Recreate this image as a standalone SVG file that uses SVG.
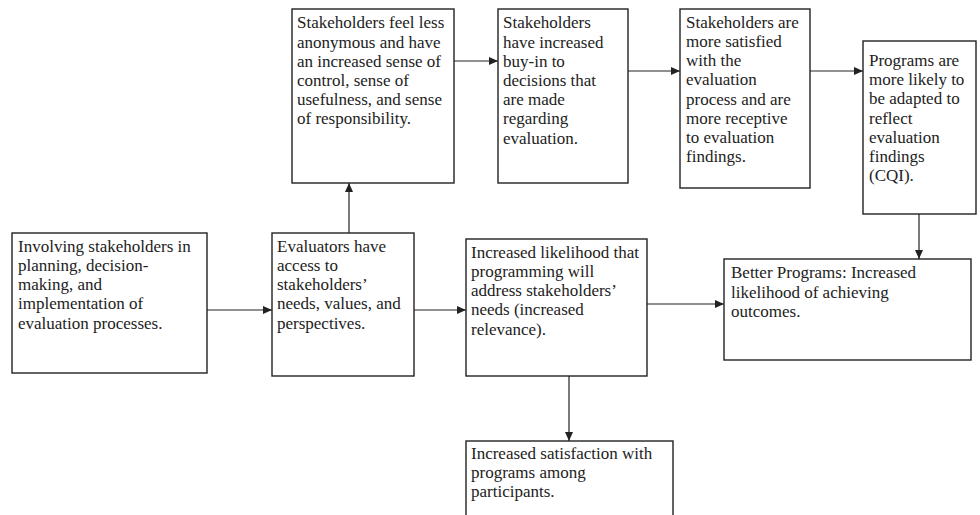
<svg xmlns="http://www.w3.org/2000/svg" width="980" height="515" viewBox="0 0 980 515">
<style>
.box{fill:#fff;stroke:#222;stroke-width:1.4}
.t{font-family:"Liberation Serif","Times New Roman",serif;font-size:17px;fill:#222}
.c{stroke:#222;stroke-width:1.2;fill:none;marker-end:url(#ah)}
</style>
<defs>
<marker id="ah" markerUnits="userSpaceOnUse" markerWidth="10" markerHeight="8" refX="9" refY="4" orient="auto">
<path d="M0,0 L9,4 L0,8 Z" fill="#222"/>
</marker>
</defs>
<rect width="980" height="515" fill="#fff"/>
<g id="connectors">
<line class="c" x1="207" y1="310" x2="272" y2="310"/>
<line class="c" x1="414" y1="310" x2="466" y2="310"/>
<line class="c" x1="647" y1="304" x2="724" y2="304"/>
<line class="c" x1="349" y1="233" x2="349" y2="183"/>
<line class="c" x1="454" y1="61" x2="498" y2="61"/>
<line class="c" x1="628" y1="71" x2="680" y2="71"/>
<line class="c" x1="810" y1="71" x2="863" y2="71"/>
<line class="c" x1="919" y1="214" x2="919" y2="259"/>
<line class="c" x1="569" y1="376" x2="569" y2="441"/>
</g>
<g id="n1">
<rect class="box" x="12" y="233" width="195" height="140"/>
<text class="t" x="18" y="251.7"><tspan x="18">Involving stakeholders in</tspan><tspan x="18" dy="19.2">planning, decision-</tspan><tspan x="18" dy="19.2">making, and</tspan><tspan x="18" dy="19.2">implementation of</tspan><tspan x="18" dy="19.2">evaluation processes.</tspan></text>
</g>
<g id="n2">
<rect class="box" x="272" y="233" width="142" height="143"/>
<text class="t" x="277" y="251.7"><tspan x="277">Evaluators have</tspan><tspan x="277" dy="19.2">access to</tspan><tspan x="277" dy="19.2">stakeholders’</tspan><tspan x="277" dy="19.2">needs, values, and</tspan><tspan x="277" dy="19.2">perspectives.</tspan></text>
</g>
<g id="n3">
<rect class="box" x="466" y="239" width="181" height="137"/>
<text class="t" x="471" y="257.8"><tspan x="471">Increased likelihood that</tspan><tspan x="471" dy="19.2">programming will</tspan><tspan x="471" dy="19.2">address stakeholders’</tspan><tspan x="471" dy="19.2">needs (increased</tspan><tspan x="471" dy="19.2">relevance).</tspan></text>
</g>
<g id="n4">
<rect class="box" x="292" y="9" width="162" height="174"/>
<text class="t" x="297" y="28.3"><tspan x="297">Stakeholders feel less</tspan><tspan x="297" dy="19.2">anonymous and have</tspan><tspan x="297" dy="19.2">an increased sense of</tspan><tspan x="297" dy="19.2">control, sense of</tspan><tspan x="297" dy="19.2">usefulness, and sense</tspan><tspan x="297" dy="19.2">of responsibility.</tspan></text>
</g>
<g id="n5">
<rect class="box" x="498" y="9" width="130" height="174"/>
<text class="t" x="503" y="28.3"><tspan x="503">Stakeholders</tspan><tspan x="503" dy="19.2">have increased</tspan><tspan x="503" dy="19.2">buy-in to</tspan><tspan x="503" dy="19.2">decisions that</tspan><tspan x="503" dy="19.2">are made</tspan><tspan x="503" dy="19.2">regarding</tspan><tspan x="503" dy="19.2">evaluation.</tspan></text>
</g>
<g id="n6">
<rect class="box" x="680" y="9" width="130" height="179"/>
<text class="t" x="686" y="27.8"><tspan x="686">Stakeholders are</tspan><tspan x="686" dy="19.2">more satisfied</tspan><tspan x="686" dy="19.2">with the</tspan><tspan x="686" dy="19.2">evaluation</tspan><tspan x="686" dy="19.2">process and are</tspan><tspan x="686" dy="19.2">more receptive</tspan><tspan x="686" dy="19.2">to evaluation</tspan><tspan x="686" dy="19.2">findings.</tspan></text>
</g>
<g id="n7">
<rect class="box" x="863" y="41" width="113" height="173"/>
<text class="t" x="869" y="66"><tspan x="869">Programs are</tspan><tspan x="869" dy="19.2">more likely to</tspan><tspan x="869" dy="19.2">be adapted to</tspan><tspan x="869" dy="19.2">reflect</tspan><tspan x="869" dy="19.2">evaluation</tspan><tspan x="869" dy="19.2">findings</tspan><tspan x="869" dy="19.2">(CQI).</tspan></text>
</g>
<g id="n8">
<rect class="box" x="724" y="259" width="247" height="101"/>
<text class="t" x="731" y="278.3"><tspan x="731">Better Programs: Increased</tspan><tspan x="731" dy="19.5">likelihood of achieving</tspan><tspan x="731" dy="19.5">outcomes.</tspan></text>
</g>
<g id="n9">
<rect class="box" x="466" y="441" width="207" height="85"/>
<text class="t" x="471" y="459"><tspan x="471">Increased satisfaction with</tspan><tspan x="471" dy="19.2">programs among</tspan><tspan x="471" dy="19.2">participants.</tspan></text>
</g>
</svg>
